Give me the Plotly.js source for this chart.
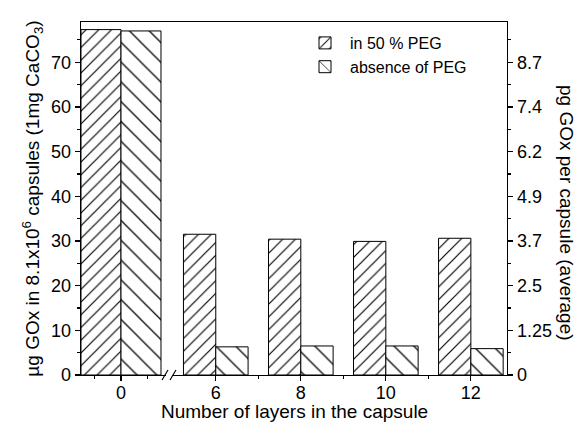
<!DOCTYPE html>
<html><head><meta charset="utf-8">
<script src="https://cdn.plot.ly/plotly-3.0.1.min.js"></script>
<style>body{margin:0;background:#fff}</style></head>
<body><div id="chart" style="width:579px;height:423px"></div>
<script>
// ---- data ----
const firstLayer = [0];
const laterLayers = [6, 8, 10, 12];
const pegFirst = [77.3];
const pegLater = [31.5, 30.4, 29.9, 30.6];
const noPegFirst = [77.0];
const noPegLater = [6.3, 6.5, 6.5, 5.9];
const leftTickVals = [0, 10, 20, 30, 40, 50, 60, 70];
const rightTickText = ['0', '1.25', '2.5', '3.7', '4.9', '6.2', '7.4', '8.7'];
const seriesNames = ['in 50 % PEG', 'absence of PEG'];

// ---- styling ----
const FONT = '"Liberation Sans", Arial, Helvetica, sans-serif';
const plotW = 426, plotH = 353;
const breakX = 88 / plotW;            // paper position of axis break
const px = v => v / plotW, py = v => v / plotH;
const pegPattern = {shape: '/', size: 9, solidity: 0.13, fgcolor: '#000', bgcolor: '#fff', fillmode: 'replace'};
const noPegPattern = {shape: '\\', size: 14, solidity: 0.09, fgcolor: '#000', bgcolor: '#fff', fillmode: 'replace'};
const line = {color: '#000', width: 1};

const traces = [
  {type: 'bar', x: firstLayer, y: pegFirst, xaxis: 'x', yaxis: 'y', name: seriesNames[0], legendgroup: 'a',
   width: 0.75, offset: -0.75, marker: {color: '#fff', pattern: pegPattern, line: line}, hoverinfo: 'x+y'},
  {type: 'bar', x: firstLayer, y: noPegFirst, xaxis: 'x', yaxis: 'y', name: seriesNames[1], legendgroup: 'b',
   width: 0.75, offset: 0, marker: {color: '#fff', pattern: noPegPattern, line: line}, hoverinfo: 'x+y'},
  {type: 'bar', x: laterLayers, y: pegLater, xaxis: 'x2', yaxis: 'y2', name: seriesNames[0], legendgroup: 'a', showlegend: false,
   width: 0.76, offset: -0.76, marker: {color: '#fff', pattern: pegPattern, line: line}, hoverinfo: 'x+y'},
  {type: 'bar', x: laterLayers, y: noPegLater, xaxis: 'x2', yaxis: 'y2', name: seriesNames[1], legendgroup: 'b', showlegend: false,
   width: 0.76, offset: 0, marker: {color: '#fff', pattern: noPegPattern, line: line}, hoverinfo: 'x+y'}
];

const yRange = [0, 79];
const common = {showline: true, linecolor: '#000', linewidth: 1.3, ticks: 'outside', ticklen: 5, tickwidth: 1.2,
  tickcolor: '#000', showgrid: false, zeroline: false, tickfont: {size: 18, color: '#000'}};

const layout = {
  width: 579, height: 423,
  margin: {l: 81, r: 72, t: 22, b: 48},
  paper_bgcolor: '#fff', plot_bgcolor: '#fff',
  font: {family: FONT, color: '#000'},
  barmode: 'overlay',
  showlegend: true,
  legend: {x: px(219), y: 1 - py(4), xanchor: 'left', yanchor: 'top', bgcolor: 'rgba(0,0,0,0)',
    font: {size: 16}, itemwidth: 40, tracegroupgap: 0},
  xaxis: Object.assign({}, common, {domain: [0, breakX], range: [-0.75, -0.75 + 88 / 53.33], anchor: 'y', mirror: true,
    tickmode: 'array', tickvals: firstLayer, ticktext: firstLayer.map(String), ticklabelstandoff: -4,
    minor: {tickmode: 'array', tickvals: [-0.5, 0.5], ticks: 'outside', ticklen: 3, tickcolor: '#000'}}),
  xaxis2: Object.assign({}, common, {domain: [breakX, 1], range: [4.9, 12.85], anchor: 'y2', mirror: true,
    tickmode: 'array', tickvals: laterLayers, ticktext: laterLayers.map(String), ticklabelstandoff: -4,
    minor: {tickmode: 'array', tickvals: [7, 9, 11], ticks: 'outside', ticklen: 3, tickcolor: '#000'}}),
  yaxis: Object.assign({}, common, {range: yRange, anchor: 'x', side: 'left',
    tickmode: 'array', tickvals: leftTickVals,
    minor: {dtick: 5, ticks: 'outside', ticklen: 3, tickcolor: '#000'},
    title: {text: 'µg GOx in 8.1x10<sup>6</sup> capsules (1mg CaCO<sub>3</sub>)', font: {size: 19}, standoff: 6}}),
  yaxis2: Object.assign({}, common, {range: yRange, anchor: 'x2', side: 'right',
    tickmode: 'array', tickvals: leftTickVals, ticktext: rightTickText,
    minor: {dtick: 5, ticks: 'outside', ticklen: 3, tickcolor: '#000'}}),
  annotations: [
    {text: 'Number of layers in the capsule', xref: 'paper', yref: 'paper', x: 0.5, y: -py(36),
     xanchor: 'center', yanchor: 'middle', showarrow: false, font: {size: 19}},
    {text: 'pg GOx per capsule (average)', xref: 'paper', yref: 'paper', x: 1 + px(60), y: py(162),
     xanchor: 'center', yanchor: 'middle', textangle: 90, showarrow: false, font: {size: 19}}
  ],
  shapes: [
    {type: 'rect', xref: 'paper', yref: 'paper', x0: breakX - px(3), x1: breakX + px(3), y0: -py(3), y1: py(3),
     fillcolor: '#fff', line: {width: 0}, layer: 'above'},
    {type: 'line', xref: 'paper', yref: 'paper', x0: breakX - px(7), x1: breakX - px(1), y0: -py(5), y1: py(5),
     line: {color: '#000', width: 1.2}, layer: 'above'},
    {type: 'line', xref: 'paper', yref: 'paper', x0: breakX + px(1), x1: breakX + px(7), y0: -py(5), y1: py(5),
     line: {color: '#000', width: 1.2}, layer: 'above'}
  ]
};

Plotly.newPlot('chart', traces, layout, {displayModeBar: false, staticPlot: true});
</script>
</body></html>
